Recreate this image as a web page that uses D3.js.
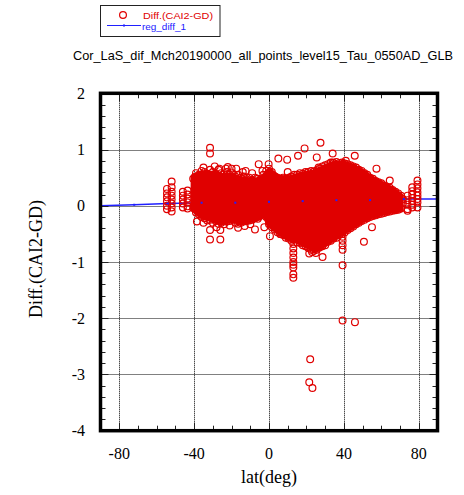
<!DOCTYPE html>
<html>
<head>
<meta charset="utf-8">
<script src="https://cdn.jsdelivr.net/npm/d3@7"></script>
<style>
  body { margin: 0; background: #fff; }
  svg { display: block; }
</style>
</head>
<body>
<div id="chart"></div>
<script>
// tick labels
const xTicks = [-80, -40, 0, 40, 80];
const yTicks = [-4, -3, -2, -1, 0, 1, 2];

// regression line reg_diff_1
const regLat = [-90, -72, -54, -36, -18, 0, 18, 36, 54, 72, 90];
const regVal = [0.0, 0.018, 0.04, 0.054, 0.054, 0.07, 0.083, 0.10, 0.10, 0.12, 0.12];

// dense core of the Diff.(CAI2-GD) cloud (upper / lower envelope of circle centres)
const coreLat = [-40, -36, -30, -25, -20, -15, -10, -5, -2, 0, 5, 10, 15, 20, 25, 30, 35, 40, 45, 50, 55, 60, 65, 70];
const coreHi = [0.52, 0.56, 0.56, 0.52, 0.52, 0.47, 0.44, 0.45, 0.52, 0.61, 0.49, 0.47, 0.52, 0.56, 0.59, 0.68, 0.74, 0.74, 0.68, 0.59, 0.47, 0.38, 0.29, 0.17];
const coreLo = [-0.06, -0.17, -0.24, -0.29, -0.24, -0.28, -0.24, -0.2, -0.12, -0.31, -0.45, -0.56, -0.61, -0.7, -0.77, -0.67, -0.56, -0.45, -0.35, -0.24, -0.17, -0.12, -0.08, -0.06];

// individual points (edge of the cloud, clusters, outliers)
const diffLat = [
  // southern clusters
  -54.5, -54.5, -54.5, -54.5, -54.5, -54.5,
  -52, -52, -52, -52, -52, -52, -52, -52,
  -46, -46, -46, -46, -46,
  -43.5, -43.5, -43.5, -43.5, -43.5, -43.5,
  // upper edge
  -40.5, -39, -37.5, -36, -34.5, -33, -31.5, -30, -28.5, -27, -25.5, -24, -22.5, -21, -19.5, -18,
  -16.5, -15, -13.5, -12, -10.5, -9, -7.5, -6, -4.5, -3, -1.5, 0, 1.5, 3, 4.5, 6, 7.5, 9, 10.5,
  12, 13.5, 15, 16.5, 18, 19.5, 21, 22.5, 24, 25.5, 27, 28.5, 30, 31.5, 33, 34.5, 36, 37.5, 39,
  40.5, 42, 43.5, 45, 46.5, 48, 49.5, 51, 52.5, 54, 55.5, 57, 58.5, 60, 61.5, 63, 64.5, 66, 67.5, 69, 70.5,
  -35, -29, -22, -14, -9, -3.5,
  // lower edge
  -40.5, -39, -37.5, -36, -34.5, -33, -31.5, -30, -28.5, -27, -25.5, -24, -22.5, -21, -19.5, -18,
  -16.5, -15, -13.5, -12, -10.5, -9, -7.5, -6, -4.5, -3, -1.5, 0, 1.5, 3, 4.5, 6, 7.5, 9, 10.5,
  12, 13.5, 15, 16.5, 18, 19.5, 21, 22.5, 24, 25.5, 27, 28.5, 30, 31.5, 33, 34.5, 36, 37.5, 39,
  40.5, 42, 43.5, 45, 46.5, 48, 49.5, 51, 52.5, 54, 55.5, 57, 58.5, 60, 61.5, 63, 64.5, 66, 67.5, 69, 70.5,
  71.5, 71.5,
  -35, -28, -21, -13, -10,
  // high outliers
  -31.5, -31.5, -26.5, -23, -20, -17.5, -12.5, -5.5, -0.2, 5, 9.7, 10, 15.5, 19, 27.5, 25.5, 26.5,
  34, 34, 41, 45.8, 57.4, 64.5,
  // low outliers
  -38.5, -31.5, -31.5, -26, -26, -16.5, -7.5, -2.5, 0.5, 6, 9.5,
  13, 13, 13, 13, 13, 13, 13, 13, 13, 13, 13, 13,
  21.5, 23, 25, 28.6,
  39.3, 39.3, 39.3, 39.3, 39.3, 39.3,
  45.9, 22, 21.5, 23.2, 50.7, 55,
  // northern columns
  79.3, 79.3, 79.3, 79.3, 79.3, 79.3, 79.3, 79.3,
  76.5, 76.5, 76.5, 76.5, 76.5, 76.5, 76.5,
  74, 74, 74, 74, 74
];
const diffVal = [
  0.3, 0.22, 0.15, 0.08, 0.0, -0.06,
  0.43, 0.33, 0.25, 0.18, 0.11, 0.04, -0.03, -0.1,
  0.25, 0.18, 0.11, 0.04, -0.03,
  0.27, 0.2, 0.13, 0.06, -0.01, -0.05,
  0.48, 0.58, 0.55, 0.62, 0.6, 0.57, 0.64, 0.6, 0.57, 0.64, 0.58, 0.56, 0.6, 0.55, 0.58, 0.52,
  0.55, 0.5, 0.52, 0.47, 0.5, 0.45, 0.5, 0.48, 0.47, 0.55, 0.62, 0.66, 0.6, 0.52, 0.5, 0.48, 0.5, 0.48, 0.5,
  0.52, 0.55, 0.55, 0.58, 0.57, 0.6, 0.6, 0.62, 0.61, 0.63, 0.66, 0.7, 0.72, 0.74, 0.77, 0.76, 0.78, 0.76, 0.77,
  0.75, 0.74, 0.72, 0.7, 0.68, 0.64, 0.62, 0.58, 0.55, 0.5, 0.48, 0.44, 0.42, 0.4, 0.36, 0.33, 0.32, 0.28, 0.25, 0.22, 0.18,
  0.68, 0.7, 0.69, 0.6, 0.58, 0.62,
  -0.04, -0.12, -0.15, -0.2, -0.22, -0.26, -0.25, -0.3, -0.27, -0.32, -0.3, -0.33, -0.28, -0.27, -0.25, -0.3,
  -0.32, -0.3, -0.28, -0.27, -0.26, -0.25, -0.22, -0.23, -0.17, -0.14, -0.2, -0.33, -0.38, -0.42, -0.47, -0.5, -0.52, -0.57, -0.58,
  -0.62, -0.6, -0.65, -0.66, -0.7, -0.72, -0.75, -0.78, -0.8, -0.78, -0.74, -0.72, -0.7, -0.64, -0.62, -0.58, -0.57, -0.52, -0.5,
  -0.47, -0.43, -0.4, -0.37, -0.33, -0.3, -0.27, -0.25, -0.22, -0.2, -0.18, -0.17, -0.15, -0.14, -0.13, -0.11, -0.1, -0.09, -0.08, -0.07, -0.05,
  0.05, 0.12,
  -0.3, -0.38, -0.35, -0.36, -0.33,
  1.03, 0.93, 0.66, 0.66, 0.66, 0.66, 0.62, 0.74, 0.74, 0.84, 0.82, 0.6, 0.89, 1.02, 1.12, 0.86, 0.68,
  0.93, 0.77, 0.8, 0.89, 0.66, 0.45,
  -0.28, -0.43, -0.6, -0.43, -0.6, -0.39, -0.42, -0.38, -0.54, -0.5, -0.5,
  -0.45, -0.52, -0.6, -0.68, -0.76, -0.84, -0.92, -1.0, -1.05, -1.1, -1.22, -1.28,
  -0.85, -0.82, -0.84, -0.91,
  -0.55, -0.62, -0.7, -0.78, -1.06, -2.04,
  -2.07, -2.73, -3.14, -3.24, -0.64, -0.38,
  0.45, 0.38, 0.31, 0.24, 0.18, 0.12, 0.06, -0.03,
  0.33, 0.26, 0.2, 0.14, 0.08, 0.02, -0.03,
  0.18, 0.1, 0.02, -0.06, -0.09
];

const width = 464;
const height = 495;
const red = '#e00000';
const blue = '#2020ff';

const svg = d3.select('#chart')
  .append('svg')
  .attr('width', width)
  .attr('height', height);

svg.append('rect').attr('width', width).attr('height', height).attr('fill', '#fff');

const x = d3.scaleLinear().domain([-90, 90]).range([100.5, 437.5]);
const y = d3.scaleLinear().domain([-4, 2]).range([430.7, 93.3]);

// dotted grid
const grid = svg.append('g')
  .attr('stroke', '#000')
  .attr('stroke-width', 1)
  .attr('stroke-dasharray', '1,1');
grid.selectAll('line.gx')
  .data(xTicks)
  .join('line')
    .attr('class', 'gx')
    .attr('x1', d => Math.round(x(d)) + 0.5).attr('x2', d => Math.round(x(d)) + 0.5)
    .attr('y1', y(2)).attr('y2', y(-4));
grid.selectAll('line.gy')
  .data(yTicks.filter(d => d > -4 && d < 2))
  .join('line')
    .attr('class', 'gy')
    .attr('x1', x(-90)).attr('x2', x(90))
    .attr('y1', d => Math.round(y(d)) + 0.5).attr('y2', d => Math.round(y(d)) + 0.5);

// regression line (under the scatter)
const reg = regLat.map((d, i) => [d, regVal[i]]);
svg.append('path')
  .datum(reg)
  .attr('fill', 'none')
  .attr('stroke', blue)
  .attr('stroke-width', 1.3)
  .attr('d', d3.line().x(d => x(d[0])).y(d => y(d[1])));

// dense core
const core = coreLat.map((d, i) => ({ lat: d, hi: coreHi[i], lo: coreLo[i] }));
svg.append('path')
  .datum(core)
  .attr('fill', red)
  .attr('stroke', red)
  .attr('stroke-width', 7)
  .attr('stroke-linejoin', 'round')
  .attr('d', d3.area().x(d => x(d.lat)).y0(d => y(d.lo)).y1(d => y(d.hi)));

// scatter points
svg.append('g')
  .attr('fill', 'none')
  .attr('stroke', red)
  .attr('stroke-width', 1.2)
  .selectAll('circle')
  .data(diffLat.map((d, i) => [d, diffVal[i]]))
  .join('circle')
    .attr('cx', d => x(d[0]))
    .attr('cy', d => y(d[1]))
    .attr('r', 3.4);

// regression markers
svg.append('g')
  .attr('fill', blue)
  .selectAll('rect')
  .data(reg)
  .join('rect')
    .attr('x', d => x(d[0]) - 1)
    .attr('y', d => y(d[1]) - 1)
    .attr('width', 2)
    .attr('height', 2);

// ticks on all four sides, pointing inward
const xMinor = d3.range(-90, 91, 10);
const yMinor = d3.range(-4, 2.001, 0.2).map(d => +d.toFixed(1));
const isMajorY = d => Math.abs(d - Math.round(d)) < 1e-6;
const ticks = svg.append('g').attr('stroke', '#222').attr('stroke-width', 1);
ticks.selectAll('line.tb')
  .data(xMinor.filter(d => d > -90 && d < 90))
  .join('line')
    .attr('class', 'tb')
    .attr('x1', d => Math.round(x(d)) + 0.5).attr('x2', d => Math.round(x(d)) + 0.5)
    .attr('y1', y(-4)).attr('y2', d => y(-4) - (xTicks.includes(d) ? 8 : 5));
ticks.selectAll('line.tt')
  .data(xMinor.filter(d => d > -90 && d < 90))
  .join('line')
    .attr('class', 'tt')
    .attr('x1', d => Math.round(x(d)) + 0.5).attr('x2', d => Math.round(x(d)) + 0.5)
    .attr('y1', y(2)).attr('y2', d => y(2) + (xTicks.includes(d) ? 8 : 5));
ticks.selectAll('line.tl')
  .data(yMinor.filter(d => d > -4 && d < 2))
  .join('line')
    .attr('class', 'tl')
    .attr('y1', d => Math.round(y(d)) + 0.5).attr('y2', d => Math.round(y(d)) + 0.5)
    .attr('x1', x(-90)).attr('x2', d => x(-90) + (isMajorY(d) ? 8 : 5));
ticks.selectAll('line.tr')
  .data(yMinor.filter(d => d > -4 && d < 2))
  .join('line')
    .attr('class', 'tr')
    .attr('y1', d => Math.round(y(d)) + 0.5).attr('y2', d => Math.round(y(d)) + 0.5)
    .attr('x1', x(90)).attr('x2', d => x(90) - (isMajorY(d) ? 8 : 5));

// frame
svg.append('rect')
  .attr('x', x(-90)).attr('y', y(2))
  .attr('width', x(90) - x(-90)).attr('height', y(-4) - y(2))
  .attr('fill', 'none')
  .attr('stroke', '#000')
  .attr('stroke-width', 3.5);

// tick labels
const serif = '"Liberation Serif", "Times New Roman", serif';
svg.append('g')
  .attr('font-family', serif)
  .attr('font-size', 16)
  .attr('text-anchor', 'middle')
  .selectAll('text')
  .data(xTicks)
  .join('text')
    .attr('x', d => x(d))
    .attr('y', 459)
    .text(d => d);
svg.append('g')
  .attr('font-family', serif)
  .attr('font-size', 16)
  .attr('text-anchor', 'end')
  .selectAll('text')
  .data(yTicks)
  .join('text')
    .attr('x', 85)
    .attr('y', d => y(d))
    .attr('dy', '0.35em')
    .text(d => d);

// axis titles
svg.append('text')
  .attr('x', x(0))
  .attr('y', 483)
  .attr('text-anchor', 'middle')
  .attr('font-family', serif)
  .attr('font-size', 18)
  .text('lat(deg)');
svg.append('text')
  .attr('transform', `translate(42,${(y(2) + y(-4)) / 2 - 3}) rotate(-90)`)
  .attr('text-anchor', 'middle')
  .attr('font-family', serif)
  .attr('font-size', 18)
  .text('Diff.(CAI2-GD)');

// title
const sans = '"Liberation Sans", Arial, sans-serif';
svg.append('text')
  .attr('x', 73)
  .attr('y', 60)
  .attr('font-family', sans)
  .attr('font-size', 13)
  .attr('textLength', 380)
  .attr('lengthAdjust', 'spacingAndGlyphs')
  .text('Cor_LaS_dif_Mch20190000_all_points_level15_Tau_0550AD_GLB');

// legend
const legend = svg.append('g');
legend.append('rect')
  .attr('x', 100.5).attr('y', 5.5)
  .attr('width', 119.5).attr('height', 31)
  .attr('fill', '#fff')
  .attr('stroke', '#222');
legend.append('circle')
  .attr('cx', 123).attr('cy', 15).attr('r', 3.4)
  .attr('fill', 'none').attr('stroke', red).attr('stroke-width', 1.2);
legend.append('text')
  .attr('x', 143).attr('y', 18.5)
  .attr('font-family', sans).attr('font-size', 9.5)
  .attr('fill', red)
  .attr('textLength', 70).attr('lengthAdjust', 'spacingAndGlyphs')
  .text('Diff.(CAI2-GD)');
legend.append('line')
  .attr('x1', 107).attr('x2', 141).attr('y1', 25.5).attr('y2', 25.5)
  .attr('stroke', blue).attr('stroke-width', 1.2);
legend.append('rect')
  .attr('x', 123).attr('y', 24.5).attr('width', 2).attr('height', 2).attr('fill', blue);
legend.append('text')
  .attr('x', 142).attr('y', 30)
  .attr('font-family', sans).attr('font-size', 9.5)
  .attr('fill', blue)
  .attr('textLength', 44).attr('lengthAdjust', 'spacingAndGlyphs')
  .text('reg_diff_1');
</script>
</body>
</html>
